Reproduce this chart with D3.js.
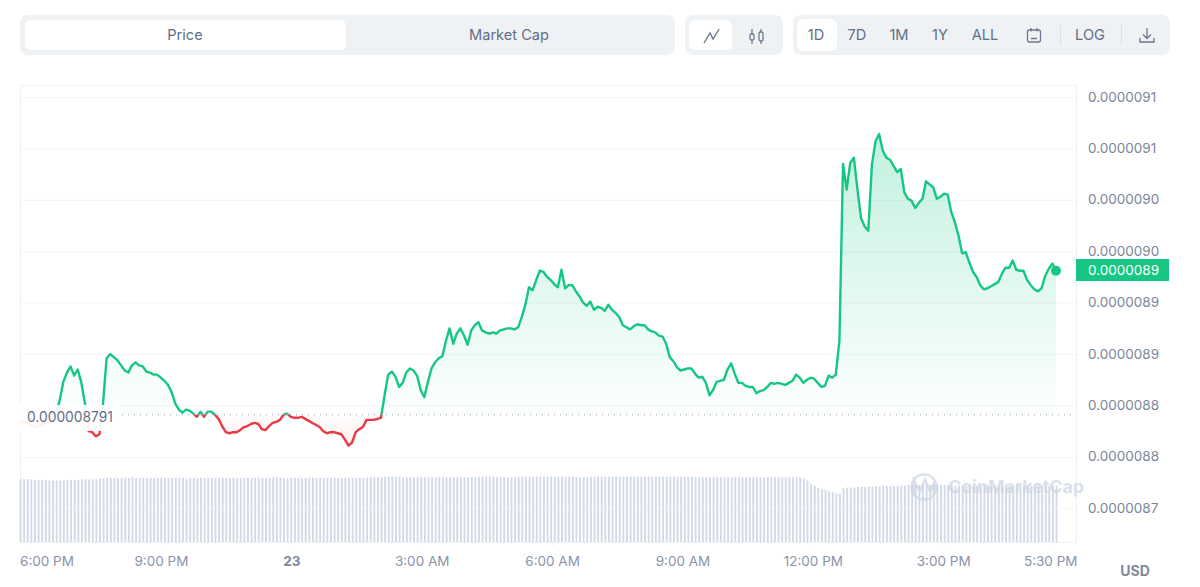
<!DOCTYPE html>
<html><head><meta charset="utf-8">
<script src="https://cdn.jsdelivr.net/npm/d3@7/dist/d3.min.js"></script>
<style>html,body{margin:0;padding:0;background:#fff}svg{display:block;font-family:Inter,"Noto Sans",sans-serif}</style>
</head><body><svg id="c" width="1200" height="587"></svg>
<script>
// price, in billionths of a USD, one reading roughly every five minutes
const priceNano = [
8785,8784,8783,8782,8779,8780,8782,8783,8784,8786,
8793,8805,8823,8832,8838,8829,8835,8822,8802,8775,
8774,8770,8772,8802,8846,8850,8847,8844,8839,8834,
8832,8839,8842,8839,8838,8833,8832,8830,8830,8827,
8824,8820,8813,8802,8796,8793,8796,8795,8792,8789,
8794,8789,8794,8794,8791,8787,8780,8774,8773,8774,
8774,8776,8779,8780,8782,8783,8782,8777,8776,8780,
8783,8784,8786,8791,8792,8789,8788,8788,8789,8787,
8785,8783,8781,8779,8775,8773,8774,8774,8773,8772,
8767,8761,8764,8774,8777,8779,8786,8786,8786,8787,
8788,8810,8830,8833,8828,8818,8822,8832,8836,8834,
8829,8815,8808,8823,8836,8842,8846,8848,8863,8875,
8860,8870,8875,8868,8859,8873,8878,8881,8873,8871,
8870,8871,8870,8873,8874,8875,8875,8874,8876,8886,
8898,8915,8912,8922,8931,8930,8925,8922,8918,8915,
8932,8914,8917,8917,8911,8906,8900,8897,8901,8893,
8896,8895,8892,8898,8893,8890,8886,8878,8876,8874,
8877,8879,8878,8878,8874,8872,8871,8868,8867,8860,
8847,8843,8837,8834,8835,8836,8836,8831,8827,8828,
8822,8810,8815,8823,8824,8825,8835,8841,8831,8822,
8822,8819,8818,8818,8812,8814,8815,8818,8822,8821,
8822,8821,8820,8822,8824,8830,8827,8822,8825,8827,
8826,8822,8818,8819,8829,8827,8830,8863,9035,9010,
9036,9041,9010,8982,8974,8970,9034,9057,9064,9048,
9041,9039,9033,9027,9030,9007,9001,8999,8992,8997,
9001,9018,9015,9012,9001,9003,9006,9005,8988,8978,
8965,8948,8949,8939,8930,8925,8917,8913,8914,8916,
8918,8920,8928,8934,8934,8941,8932,8931,8931,8922,
8917,8913,8911,8914,8926,8933,8938,8931];
// traded volume, relative to a nominal 100
const volumeShare = [
98,98,98,98,97,97,97,97,96,96,
96,96,96,97,97,97,97,98,98,98,
98,98,99,100,100,100,100,100,100,100,
100,101,100,100,100,100,100,100,100,100,
100,100,100,100,100,100,99,100,100,100,
100,100,100,100,100,100,100,100,100,100,
100,100,100,100,100,100,100,100,100,101,
101,101,101,100,100,100,100,100,100,100,
100,100,100,100,100,100,100,100,100,100,
100,100,100,100,100,100,100,101,101,101,
101,102,102,102,102,102,101,101,101,101,
101,101,101,101,101,101,101,101,101,101,
101,101,101,101,101,101,101,102,102,102,
102,102,101,101,101,101,101,101,102,102,
102,102,102,102,102,102,102,102,102,102,
102,102,102,102,102,101,101,101,102,102,
102,102,102,102,102,102,102,102,102,102,
102,102,102,102,102,102,102,102,102,102,
102,102,102,102,102,102,102,101,101,101,
101,101,101,101,101,101,101,101,101,101,
101,101,101,101,101,101,101,101,101,101,
101,101,101,101,101,101,100,99,96,91,
88,85,83,81,79,78,76,75,84,85,
85,85,86,86,86,87,87,87,87,88,
88,88,88,88,88,88,89,89,89,89,
89,89,89,89,89,89,89,89,89,88,
88,88,88,88,88,88,88,88,88,88,
88,88,88,88,88,88,88,88,88,88,
88,88,88,88,88,88,88,88];
const baselineNano = 8791;
const baselineLabel = "0.000008791";
const lastPriceLabel = "0.0000089";
const priceTickValues = [9100,9050,9000,8950,8900,8850,8800,8750,8700];
const priceTickLabels = ["0.0000091","0.0000091","0.0000090","0.0000090","0.0000089","0.0000089","0.0000088","0.0000088","0.0000087"];
const timeTickHours = [18,21,24,27,30,33,36,39,41.5];
const timeTickLabels = ["6:00 PM","9:00 PM","23","3:00 AM","6:00 AM","9:00 AM","12:00 PM","3:00 PM","5:30 PM"];
const metricTabs = ["Price","Market Cap"];
const rangeTabs = ["1D","7D","1M","1Y","ALL"];

const GREEN="#16c784", RED="#ea3943", GRID="#eff2f5", PANEL="#eff2f5", TXT="#616e85", AXT="#7a869b", MUT="#8a94a8";
const L=20,R=1076,T=85,B=542,LASTX=1056;
const svg=d3.select("#c");
const defs=svg.append("defs");

const t0=new Date(2023,0,22,17,44,48).getTime();
const stepMs=299000;
const timeOf=i=>new Date(t0+i*stepMs);
const x=d3.scaleTime().domain([timeOf(0),timeOf(priceNano.length-1)]).range([L,LASTX]);
const y=d3.scaleLinear().domain([8700,9100]).range([508.3,97]);
const yv=d3.scaleLinear().domain([0,100]).range([B,478]);
const base=y(baselineNano);

// toolbar
const tb=svg.append("g");
const panel=(x0,x1,y0,y1,fill,r)=>tb.append("rect").attr("x",x0).attr("y",y0).attr("width",x1-x0).attr("height",y1-y0).attr("rx",r).attr("fill",fill);
panel(20,675,15,55,PANEL,8);panel(685,783,15,55,PANEL,8);panel(793,1170,15,55,PANEL,8);
panel(25,346,20,50,"#fff",6);panel(689,732,20,50,"#fff",6);panel(797,837,19,51,"#fff",6);
const tbText=(s,cx,fs)=>tb.append("text").attr("x",cx).attr("y",35).attr("dy","0.36em").attr("text-anchor","middle").attr("font-size",fs||14.6).attr("fill",TXT).attr("font-weight",400).text(s);
[185,509].forEach((cx,i)=>tbText(metricTabs[i],cx));
[816,857,899,940,985].forEach((cx,i)=>tbText(rangeTabs[i],cx));
tbText("LOG",1090);
tb.append("path").attr("d","M704 43L710 33L713 39L719 29").attr("fill","none").attr("stroke","#6b778c").attr("stroke-width",1.4);
tb.append("path").attr("d","M752 29V44M761 29V44").attr("stroke","#6b778c").attr("stroke-width",1.2);
tb.append("rect").attr("x",750).attr("y",34).attr("width",4).attr("height",6).attr("rx",1.5).attr("fill",PANEL).attr("stroke","#6b778c").attr("stroke-width",1.3);
tb.append("rect").attr("x",759).attr("y",32).attr("width",4).attr("height",9).attr("rx",1.5).attr("fill",PANEL).attr("stroke","#6b778c").attr("stroke-width",1.3);
tb.append("rect").attr("x",1027.5).attr("y",30).attr("width",13).attr("height",12).attr("rx",2).attr("fill","none").attr("stroke","#6b778c").attr("stroke-width",1.3);
tb.append("path").attr("d","M1031 28V31.5M1037 28V31.5M1031 38.5H1037").attr("stroke","#6b778c").attr("stroke-width",1.3);
tb.append("path").attr("d","M1060.5 25V45M1121.5 25V45").attr("stroke","#d9dee7").attr("stroke-width",1);
tb.append("path").attr("d","M1147 28V38M1143 34.5L1147 38.5L1151 34.5M1140 38V42H1154V38").attr("fill","none").attr("stroke","#6b778c").attr("stroke-width",1.3);

// frame and grid
svg.append("rect").attr("x",L+.5).attr("y",T+.5).attr("width",R-L).attr("height",B-T).attr("fill","none").attr("stroke",GRID);
// volume
svg.append("g").selectAll("rect").data(volumeShare).join("rect")
 .attr("x",(d,i)=>x(timeOf(i))-.4).attr("width",1.9)
 .attr("y",d=>yv(d)).attr("height",d=>B-yv(d)).attr("fill","#d2d9e7");

const yAxis=d3.axisRight(y).tickValues(priceTickValues).tickFormat((d,i)=>priceTickLabels[i]).tickSize(-(R-L)).tickPadding(12);
const gy=svg.append("g").attr("transform",`translate(${R},0)`).call(yAxis);
gy.select(".domain").remove();
gy.selectAll("line").attr("stroke",GRID).attr("stroke-opacity",.8);
gy.selectAll("text").attr("font-size",13.5).attr("fill",AXT).attr("font-family","Inter").attr("dy","0.3em");

// gradients and clips
const g1=defs.append("linearGradient").attr("id","up").attr("gradientUnits","userSpaceOnUse").attr("x1",0).attr("x2",0).attr("y1",y(d3.max(priceNano))).attr("y2",base);
g1.append("stop").attr("offset",0).attr("stop-color",GREEN).attr("stop-opacity",.26);
g1.append("stop").attr("offset",1).attr("stop-color",GREEN).attr("stop-opacity",.01);
const g2=defs.append("linearGradient").attr("id","down").attr("gradientUnits","userSpaceOnUse").attr("x1",0).attr("x2",0).attr("y1",base).attr("y2",y(d3.min(priceNano)));
g2.append("stop").attr("offset",0).attr("stop-color",RED).attr("stop-opacity",.01);
g2.append("stop").attr("offset",1).attr("stop-color",RED).attr("stop-opacity",.08);
defs.append("clipPath").attr("id","cu").append("rect").attr("x",L).attr("y",T).attr("width",R-L).attr("height",base-T);
defs.append("clipPath").attr("id","cd").append("rect").attr("x",L).attr("y",base).attr("width",R-L).attr("height",B-base);

const area=d3.area().x((d,i)=>x(timeOf(i))).y0(base).y1(d=>y(d));
const line=d3.line().x((d,i)=>x(timeOf(i))).y(d=>y(d));
svg.append("path").datum(priceNano).attr("d",area).attr("fill","url(#up)").attr("clip-path","url(#cu)");
svg.append("path").datum(priceNano).attr("d",area).attr("fill","url(#down)").attr("clip-path","url(#cd)");
svg.append("path").datum(priceNano).attr("d",line).attr("fill","none").attr("stroke",GREEN).attr("stroke-width",2.4).attr("stroke-linejoin","round").attr("clip-path","url(#cu)");
svg.append("path").datum(priceNano).attr("d",line).attr("fill","none").attr("stroke",RED).attr("stroke-width",2.4).attr("stroke-linejoin","round").attr("clip-path","url(#cd)");

// baseline
svg.append("line").attr("x1",L).attr("x2",R).attr("y1",base).attr("y2",base).attr("stroke","#98a2b3").attr("stroke-width",1).attr("stroke-dasharray","1 5");
svg.append("rect").attr("x",L).attr("y",405).attr("width",98).attr("height",26).attr("fill","#fff").attr("opacity",.93);
svg.append("text").attr("x",27).attr("y",base+2).attr("dy","0.36em").attr("font-size",13.8).attr("fill",TXT).text(baselineLabel);

// last price
svg.append("circle").attr("cx",x(timeOf(priceNano.length-1))).attr("cy",y(priceNano[priceNano.length-1])).attr("r",5).attr("fill",GREEN);
svg.append("rect").attr("x",R).attr("y",259).attr("width",93).attr("height",22).attr("fill",GREEN);
svg.append("text").attr("x",1088).attr("y",270).attr("dy","0.36em").attr("font-size",13.5).attr("fill","#fff").text(lastPriceLabel);

// x axis
const tickDates=timeTickHours.map(h=>new Date(2023,0,22,0,0,0).getTime()+h*3600000).map(t=>new Date(t));
const xAxis=d3.axisBottom(x).tickValues(tickDates).tickFormat((d,i)=>timeTickLabels[i]).tickSize(4).tickPadding(10);
const gx=svg.append("g").attr("transform",`translate(-0.5,${B})`).call(xAxis);
gx.select(".domain").remove();
gx.selectAll("line").attr("stroke",GRID);
gx.selectAll("text").attr("font-size",13.5).attr("fill",MUT).attr("font-family","Inter");
gx.selectAll("text").filter((d,i)=>i===2).attr("font-weight",700).attr("fill","#808a9d");
gx.selectAll("text").filter((d,i)=>i===0).attr("text-anchor","start").attr("x",L-x(tickDates[0]));
gx.selectAll("text").filter((d,i)=>i===8).attr("text-anchor","end").attr("x",1077.5-x(tickDates[8]));
svg.append("text").attr("x",1135).attr("y",571).attr("dy","0.36em").attr("text-anchor","middle").attr("font-size",14).attr("font-weight",700).attr("fill","#808a9d").text("USD");

// watermark
const wm=svg.append("g").attr("opacity",.75);
wm.append("circle").attr("cx",924).attr("cy",487).attr("r",12.5).attr("fill","none").attr("stroke","#cfd7e6").attr("stroke-width",2.6);
wm.append("path").attr("d","M914 495V481L920 491L925 480L930 491L934 484V495").attr("fill","none").attr("stroke","#cfd7e6").attr("stroke-width",2.8);
wm.append("text").attr("x",948).attr("y",487).attr("dy","0.36em").attr("font-size",17.8).attr("font-weight",700).attr("fill","#cfd7e6").text("CoinMarketCap");
</script></body></html>
